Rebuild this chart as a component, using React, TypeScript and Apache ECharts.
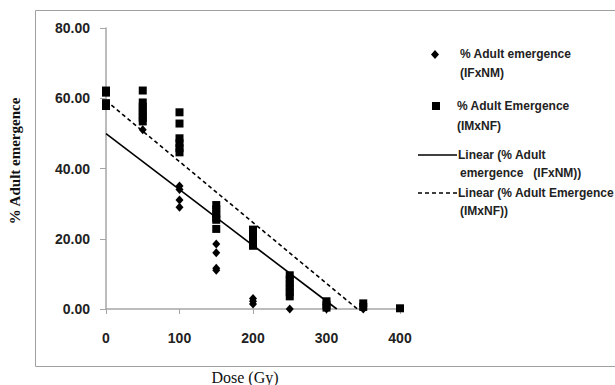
import React, { useEffect, useRef } from "react";
import * as echarts from "echarts";

// Dose levels (Gy)
const doses = [0, 50, 100, 150, 200, 250, 300, 350, 400];

// % Adult Emergence (IMxNF) — squares, replicate values per dose
const imxnfValues: number[][] = [
  [62.2, 61.6, 58.6, 57.8],
  [62.2, 58.8, 57.6, 56.5, 55.4, 54.4, 53.4],
  [56.0, 52.8, 48.6, 47.2, 45.8, 44.6],
  [29.6, 28.4, 27.2, 26.0, 25.4, 22.8],
  [22.6, 21.4, 20.2, 19.0, 18.0],
  [9.6, 8.4, 7.2, 6.0, 4.8, 3.6],
  [2.2, 1.2, 0.4],
  [1.6, 0.6],
  [0.2],
];

// % Adult emergence (IFxNM) — diamonds, replicate values per dose
const ifxnmValues: number[][] = [
  [],
  [53.5, 51.0],
  [35.0, 34.0, 31.0, 29.0],
  [26.5, 18.5, 16.0, 11.6, 11.0],
  [3.0, 2.2, 1.4],
  [0],
  [0.5, 0],
  [0],
  [],
];

// Linear trend lines (start at dose 0, end where they reach 0 %)
const trendIfxnm: [number, number][] = [
  [0, 49.9],
  [314, 0],
];
const trendImxnf: [number, number][] = [
  [0, 59.3],
  [342, 0],
];

const xTicks = [0, 100, 200, 300, 400];
const yTicks = [0, 20, 40, 60, 80];

const legendLabels = {
  ifxnm: ["% Adult emergence", "(IFxNM)"],
  imxnf: ["% Adult Emergence", "(IMxNF)"],
  linIfxnm: ["Linear (% Adult", "emergence   (IFxNM))"],
  linImxnf: ["Linear (% Adult Emergence", "(IMxNF))"],
};

const yAxisTitle = "% Adult emergence";
const xAxisTitle = "Dose (Gy)";

function flatten(vals: number[][]): [number, number][] {
  const out: [number, number][] = [];
  vals.forEach((arr, i) => arr.forEach((v) => out.push([doses[i], v])));
  return out;
}

export default function App() {
  const ref = useRef<HTMLDivElement>(null);
  useEffect(() => {
    if (!ref.current) return;
    const chart = echarts.init(ref.current, undefined, { renderer: "svg" });
    const sansFont = "Liberation Sans";
    const legendText = {
      fontFamily: sansFont,
      fontSize: 12,
      fontWeight: "bold" as const,
      fill: "#222",
    };
    const txt = (x: number, y: number, t: string) => ({
      type: "text",
      x,
      y,
      style: { ...legendText, text: t, verticalAlign: "middle" },
    });
    chart.setOption({
      animation: false,
      backgroundColor: "#fff",
      grid: { left: 106, right: 215, top: 28, bottom: 76, containLabel: false },
      xAxis: {
        type: "value",
        min: 0,
        max: 400,
        interval: 100,
        axisLine: { show: true, lineStyle: { color: "#a6a6a6", width: 1.5 } },
        axisTick: { show: true, inside: false, length: 5, lineStyle: { color: "#a6a6a6" } },
        splitLine: { show: false },
        axisLabel: {
          margin: 22,
          fontFamily: sansFont,
          fontSize: 14,
          fontWeight: "bold",
          color: "#222",
          formatter: (v: number) => (xTicks.includes(v) ? String(v) : ""),
        },
      },
      yAxis: {
        type: "value",
        min: 0,
        max: 80,
        interval: 20,
        axisLine: { show: true, lineStyle: { color: "#a6a6a6", width: 1.5 } },
        axisTick: { show: true, inside: false, length: 6, lineStyle: { color: "#a6a6a6" } },
        splitLine: { show: false },
        axisLabel: {
          margin: 16,
          fontFamily: sansFont,
          fontSize: 14,
          fontWeight: "bold",
          color: "#222",
          formatter: (v: number) => (yTicks.includes(v) ? v.toFixed(2) : ""),
        },
      },
      series: [
        {
          name: "Linear (% Adult emergence (IFxNM))",
          type: "line",
          data: trendIfxnm,
          showSymbol: false,
          symbol: "none",
          lineStyle: { color: "#000", width: 1.6, type: "solid" },
          z: 3,
        },
        {
          name: "Linear (% Adult Emergence (IMxNF))",
          type: "line",
          data: trendImxnf,
          showSymbol: false,
          symbol: "none",
          lineStyle: { color: "#000", width: 1.6, type: [4, 3] },
          z: 3,
        },
        {
          name: "% Adult Emergence (IMxNF)",
          type: "scatter",
          data: flatten(imxnfValues),
          symbol: "rect",
          symbolSize: 8,
          itemStyle: { color: "#000", opacity: 1 },
          z: 4,
        },
        {
          name: "% Adult emergence (IFxNM)",
          type: "scatter",
          data: flatten(ifxnmValues),
          symbol: "diamond",
          symbolSize: [8, 9],
          itemStyle: { color: "#000", opacity: 1 },
          z: 5,
        },
      ],
      graphic: [
        {
          type: "rect",
          shape: { x: 35.5, y: 10.5, width: 620, height: 356 },
          style: { fill: "none", stroke: "#a0a0a0", lineWidth: 1 },
          silent: true,
        },
        {
          type: "text",
          x: 15,
          y: 161,
          rotation: Math.PI / 2,
          style: {
            text: yAxisTitle,
            fontFamily: "Liberation Serif",
            fontSize: 15,
            fontWeight: "bold",
            fill: "#111",
            align: "center",
            verticalAlign: "middle",
          },
        },
        {
          type: "text",
          x: 245,
          y: 377,
          style: {
            text: xAxisTitle,
            fontFamily: "Liberation Serif",
            fontSize: 16,
            fill: "#111",
            align: "center",
            verticalAlign: "middle",
          },
        },
        // legend: diamond
        {
          type: "polygon",
          shape: { points: [[435, 50], [439, 54.5], [435, 59], [431, 54.5]] },
          style: { fill: "#000" },
        },
        txt(460, 54, legendLabels.ifxnm[0]),
        txt(460, 73, legendLabels.ifxnm[1]),
        // legend: square
        {
          type: "rect",
          shape: { x: 432, y: 102, width: 8, height: 8 },
          style: { fill: "#000" },
        },
        txt(457, 106, legendLabels.imxnf[0]),
        txt(457, 126, legendLabels.imxnf[1]),
        // legend: solid line
        {
          type: "line",
          shape: { x1: 418, y1: 155, x2: 457, y2: 155 },
          style: { stroke: "#000", lineWidth: 1.6 },
        },
        txt(458, 155, legendLabels.linIfxnm[0]),
        txt(460, 173, legendLabels.linIfxnm[1]),
        // legend: dashed line
        {
          type: "line",
          shape: { x1: 418, y1: 193, x2: 457, y2: 193 },
          style: { stroke: "#000", lineWidth: 1.6, lineDash: [4, 3] },
        },
        txt(458, 193, legendLabels.linImxnf[0]),
        txt(460, 211, legendLabels.linImxnf[1]),
      ],
    });
    return () => chart.dispose();
  }, []);
  return (
    <div
      ref={ref}
      style={{ position: "fixed", left: 0, top: 0, width: 615, height: 385 }}
    />
  );
}
